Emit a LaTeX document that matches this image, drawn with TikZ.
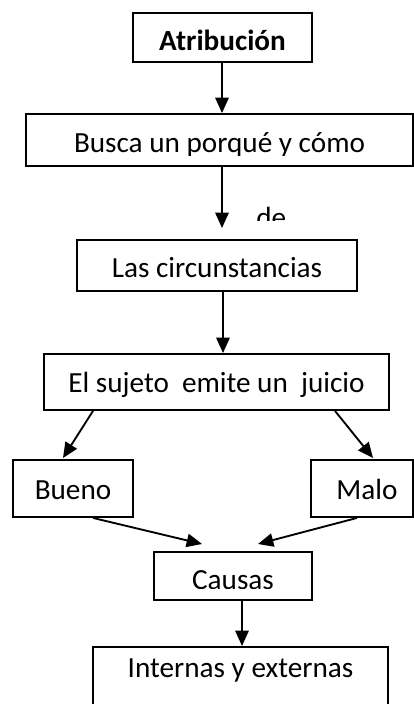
\documentclass[tikz,border=0pt]{standalone}
\usepackage{fontspec}
\setmainfont{Carlito}
\usetikzlibrary{arrows.meta}
\begin{document}
\begin{tikzpicture}[x=0.75pt,y=-0.75pt,
  box/.style={draw, line width=1.4pt, rectangle, inner sep=0pt,
    font=\fontsize{21.9pt}{26pt}\selectfont, text height=18pt, text depth=0pt},
  arr/.style={line width=1.4pt, -{Triangle[length=11.5pt,width=10pt]}},
  lbl/.style={inner sep=0pt, anchor=base west, font=\fontsize{21.9pt}{26pt}\selectfont},
  mask/.style={fill=white, draw=none}]
\useasboundingbox (0,0) rectangle (414,704);

\node[box, minimum width=134.25pt, minimum height=36.75pt, text height=20pt] (atr) at (222.5,37.5) {\bfseries Atribución};
\node[box, minimum width=290.25pt, minimum height=39pt] (busca) at (219.5,140) {Busca un porqué y cómo};
\node[box, minimum width=210pt, minimum height=38.25pt] (circ) at (217,265.5) {Las circunstancias};
\node[box, minimum width=258.75pt, minimum height=42pt, text height=16pt] (sujeto) at (216.5,382) {El sujeto\ \ emite un\ \ juicio};
\node[box, minimum width=90pt, minimum height=42.75pt, text height=16pt] (bueno) at (73,488.5) {Bueno};
\node[box, minimum width=76.5pt, minimum height=42.75pt, text height=16pt] (malo) at (362,488.5) {\hspace*{7.5pt}Malo};
\node[box, minimum width=118.5pt, minimum height=36pt, text height=20pt] (causas) at (233,576) {Causas};
\node[box, minimum width=221.25pt, minimum height=49.5pt, text height=12pt, text depth=16.5pt] (internas) at (240.5,680) {Internas y externas};

% clipped text bottoms, as in the reference
\fill[mask] (40,156) rectangle (400,164.4);
\fill[mask] (160,589) rectangle (306,598.6);

\begin{scope}
  \clip (240,190) rectangle (300,220);
  \node[lbl] (de) at (256,227) {de};
\end{scope}

\coordinate (deend) at (222,228);

\draw[arr] (atr.south -| 222,0) -- (222,0 |- busca.north);
\draw[arr] (busca.south -| 222,0) -- (deend);
\draw[arr] (circ.south -| 223,0) -- (223,0 |- sujeto.north);
\draw[arr] (sujeto.south -| 93,0) -- (63,458);
\draw[arr] (sujeto.south -| 335,0) -- (373,458);
\draw[arr] (bueno.south -| 93,0) -- (202,544);
\draw[arr] (malo.south -| 357,0) -- (258,544);
\draw[arr] (causas.south -| 242,0) -- (242,0 |- internas.north);
\end{tikzpicture}
\end{document}
